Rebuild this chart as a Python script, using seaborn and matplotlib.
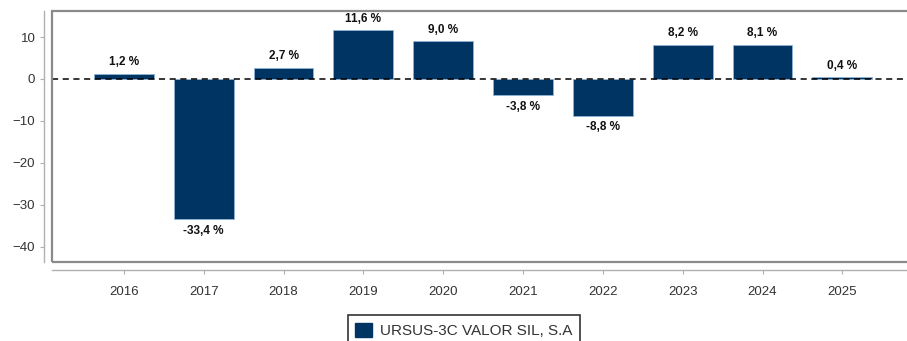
import matplotlib
matplotlib.use("Agg")
import matplotlib.pyplot as plt
import matplotlib.patches as mpatches
import seaborn as sns
import pandas as pd

years = ["2016", "2017", "2018", "2019", "2020", "2021", "2022", "2023", "2024", "2025"]
returns = [1.2, -33.4, 2.7, 11.6, 9.0, -3.8, -8.8, 8.2, 8.1, 0.4]
series_name = "URSUS-3C VALOR SIL, S.A"
yticks = [-40, -30, -20, -10, 0, 10]

sns.set_theme(style="white")
plt.rcParams["font.family"] = ["Liberation Sans", "DejaVu Sans"]

df = pd.DataFrame({"year": years, "ret": returns})

fig = plt.figure(figsize=(9.07, 3.41), dpi=100)
ax = fig.add_axes([52 / 907, 1 - 262 / 341, (911 - 52) / 907, (262 - 11) / 341])

navy = "#003462"
sns.barplot(data=df, x="year", y="ret", color=navy, width=0.75,
            edgecolor="#8fb3d6", linewidth=0.6, saturation=1, ax=ax)

ax.axhline(0, color="black", lw=1.1, ls=(0, (4, 3)), zorder=3)

for i, v in enumerate(returns):
    txt = f"{v:.1f} %".replace(".", ",")
    if v >= 0:
        ax.annotate(txt, (i, v), xytext=(0, 4), textcoords="offset points",
                    ha="center", va="bottom", fontsize=8.5, fontweight="bold",
                    color="#111111")
    else:
        ax.annotate(txt, (i, v), xytext=(0, -4), textcoords="offset points",
                    ha="center", va="top", fontsize=8.5, fontweight="bold",
                    color="#111111")

ax.set_xlim(-0.9, 9.86)
ax.set_ylim(-43.6, 16.2)
ax.set_yticks(yticks)
ax.set_xlabel("")
ax.set_ylabel("")

# outer frame of the plotting area
frame = mpatches.Rectangle((0, 0), 1, 1, transform=ax.transAxes, fill=False,
                           edgecolor="#8a8a8a", lw=1.6, clip_on=False, zorder=5)
ax.add_patch(frame)

for s in ["top", "right"]:
    ax.spines[s].set_visible(False)
for s in ["left", "bottom"]:
    ax.spines[s].set_visible(True)
    ax.spines[s].set_color("#b0b0b0")
    ax.spines[s].set_linewidth(1.0)
    ax.spines[s].set_position(("outward", 6))

ax.tick_params(axis="both", which="both", length=3, width=0.8, color="#b0b0b0",
               labelsize=9.5, labelcolor="#333333", left=True, bottom=True)
ax.tick_params(axis="x", pad=8)
ax.tick_params(axis="y", pad=3)

handle = mpatches.Patch(facecolor=navy, edgecolor=navy, label=series_name)
leg = fig.legend(handles=[handle], loc="upper center",
                 bbox_to_anchor=(464 / 907, 1 - 315 / 341), borderaxespad=0,
                 frameon=True, fancybox=False, fontsize=11, handlelength=1.1,
                 handleheight=1.1, borderpad=0.5, handletextpad=0.55)
leg.get_frame().set_edgecolor("black")
leg.get_frame().set_linewidth(1.2)
for t in leg.get_texts():
    t.set_color("#333333")

fig.savefig("out.png", dpi=100)
